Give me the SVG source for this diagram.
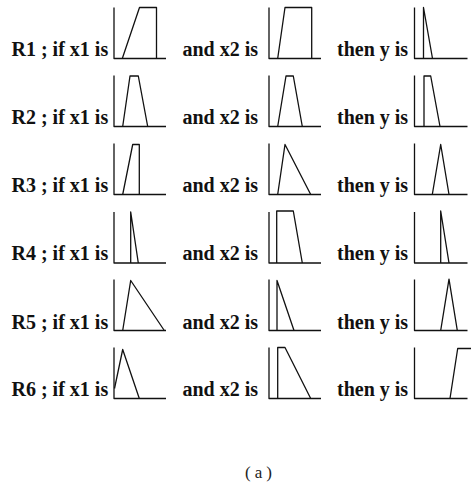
<svg xmlns="http://www.w3.org/2000/svg" width="471" height="484" viewBox="0 0 471 484">
<style>
.t{font-family:"Liberation Serif","Times New Roman",serif;font-weight:bold;font-size:20px;fill:#111}
.c{font-family:"Liberation Serif","Times New Roman",serif;font-size:17px;fill:#222}
.ax,.mf{fill:none;stroke:#111;stroke-width:1.3;stroke-linejoin:round}
</style>
<rect width="471" height="484" fill="#fff"/>
<defs>
<path id="axA" d="M0,-51 V0 H52"/>
<path id="axB" d="M0,-51 V0 H53"/>
</defs>
<g id="R1">
<text class="t" x="11.5" y="55.5">R1 ; if x1 is</text>
<text class="t" x="182.5" y="55.5">and x2 is</text>
<text class="t" x="337" y="55.5">then y is</text>
<g transform="translate(114,58.5)"><use href="#axA" class="ax"/><path class="mf" d="M8.3,0 L25.5,-51 H42.5 V0"/></g>
<g transform="translate(269,58.5)"><use href="#axA" class="ax"/><path class="mf" d="M8.7,0 L16,-51 H42.7 V0"/></g>
<g transform="translate(414.5,58.5)"><use href="#axB" class="ax"/><path class="mf" d="M9,0 V-51 L18,0"/></g>
</g>
<g id="R2">
<text class="t" x="11.5" y="123.5">R2 ; if x1 is</text>
<text class="t" x="182.5" y="123.5">and x2 is</text>
<text class="t" x="337" y="123.5">then y is</text>
<g transform="translate(114,126.5)"><use href="#axA" class="ax"/><path class="mf" d="M8.7,0 L16,-50.5 H24.3 L33.7,0"/></g>
<g transform="translate(269,126.5)"><use href="#axA" class="ax"/><path class="mf" d="M8.7,0 L17,-50.5 H24.3 L33.3,0"/></g>
<g transform="translate(414.5,126.5)"><use href="#axB" class="ax"/><path class="mf" d="M9.5,0 V-50.5 H16.2 L25.5,0"/></g>
</g>
<g id="R3">
<text class="t" x="11.5" y="191.5">R3 ; if x1 is</text>
<text class="t" x="182.5" y="191.5">and x2 is</text>
<text class="t" x="337" y="191.5">then y is</text>
<g transform="translate(114,194.5)"><use href="#axA" class="ax"/><path class="mf" d="M8.7,0 L18.7,-50 H25.3 V0"/></g>
<g transform="translate(269,194.5)"><use href="#axA" class="ax"/><path class="mf" d="M8.7,0 L16,-50 L41.7,0"/></g>
<g transform="translate(414.5,194.5)"><use href="#axB" class="ax"/><path class="mf" d="M17.8,0 L26.2,-50 L34.5,0"/></g>
</g>
<g id="R4">
<text class="t" x="11.5" y="260">R4 ; if x1 is</text>
<text class="t" x="182.5" y="260">and x2 is</text>
<text class="t" x="337" y="260">then y is</text>
<g transform="translate(114,263)"><use href="#axA" class="ax"/><path class="mf" d="M16.7,0 V-51 L24.3,0"/></g>
<g transform="translate(269,263)"><use href="#axA" class="ax"/><path class="mf" d="M7.7,0 V-52 H24.3 L33.3,0"/></g>
<g transform="translate(414.5,263)"><use href="#axB" class="ax"/><path class="mf" d="M26.2,0 V-52 L34.5,0"/></g>
</g>
<g id="R5">
<text class="t" x="11.5" y="328.5">R5 ; if x1 is</text>
<text class="t" x="182.5" y="328.5">and x2 is</text>
<text class="t" x="337" y="328.5">then y is</text>
<g transform="translate(114,330.5)"><use href="#axA" class="ax"/><path class="mf" d="M8.7,0 L16.7,-50 L50.3,0"/></g>
<g transform="translate(269,330.5)"><use href="#axA" class="ax"/><path class="mf" d="M8,0 V-50 L25,0"/></g>
<g transform="translate(414.5,330.5)"><use href="#axB" class="ax"/><path class="mf" d="M26.2,0 L34.5,-51.4 L42.8,0"/></g>
</g>
<g id="R6">
<text class="t" x="11.5" y="396">R6 ; if x1 is</text>
<text class="t" x="182.5" y="396">and x2 is</text>
<text class="t" x="337" y="396">then y is</text>
<g transform="translate(114,398.5)"><use href="#axA" class="ax"/><path class="mf" d="M0.5,-10 L8.7,-49 L25.3,0"/></g>
<g transform="translate(269,398.5)"><use href="#axA" class="ax"/><path class="mf" d="M8.7,0 V-51 H16 L41.7,0"/></g>
<g transform="translate(414.5,398.5)"><use href="#axB" class="ax"/><path class="mf" d="M35.5,0 L43.2,-50 H56.5"/></g>
</g>
<g id="connectors"></g>
<text id="caption" class="c" x="245" y="478" textLength="27" lengthAdjust="spacing">(a)</text>
</svg>
